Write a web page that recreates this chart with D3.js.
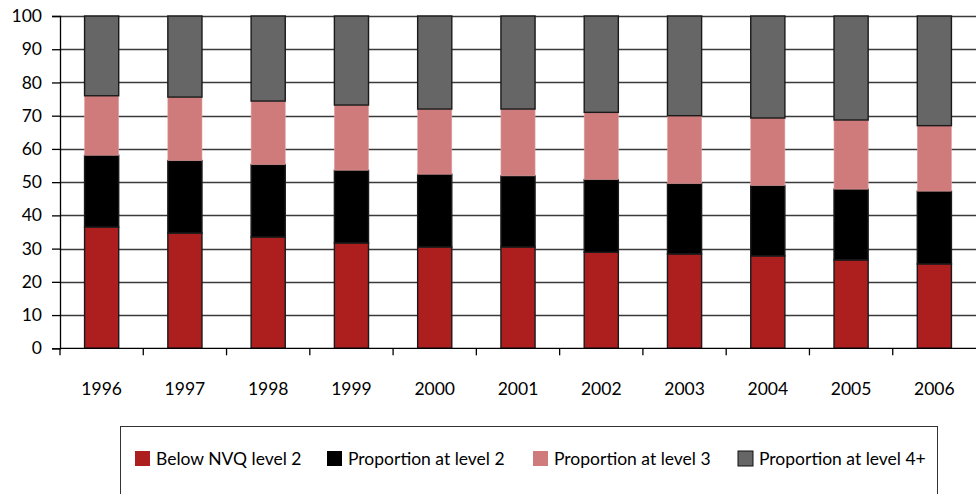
<!DOCTYPE html>
<html>
<head>
<meta charset="utf-8">
<script src="https://cdn.jsdelivr.net/npm/d3@7"></script>
<style>
  html, body { margin: 0; padding: 0; background: #fff; }
  svg { display: block; }
  text { font-family: Lato, "Open Sans", sans-serif; fill: #000; }
</style>
</head>
<body>
<svg id="chart" width="978" height="494"></svg>
<script>
// Qualification levels of the working-age population, 1996–2006 (%)
const years = ["1996", "1997", "1998", "1999", "2000", "2001", "2002", "2003", "2004", "2005", "2006"];
const belowLevel2 = [36.5, 34.7, 33.5, 31.7, 30.5, 30.5, 28.9, 28.4, 27.8, 26.6, 25.4];
const atLevel2    = [21.6, 21.8, 21.8, 21.9, 21.9, 21.4, 21.9, 21.2, 21.2, 21.3, 21.9];
const atLevel3    = [17.9, 19.1, 19.1, 19.6, 19.6, 20.1, 20.2, 20.4, 20.3, 20.8, 19.7];
const atLevel4    = [24.0, 24.4, 25.6, 26.8, 28.0, 28.0, 29.0, 30.0, 30.7, 31.3, 33.0];
const seriesNames = ["Below NVQ level 2", "Proportion at level 2", "Proportion at level 3", "Proportion at level 4+"];
const seriesColors = ["#ad1f1f", "#000000", "#cf7b7b", "#666666"];
const yTicks = [0, 10, 20, 30, 40, 50, 60, 70, 80, 90, 100];

const svg = d3.select("#chart");
const margin = { left: 60, right: 2, top: 16, bottom: 146 };
const width = 978, height = 494;
const fontSize = 17.5;

const rows = years.map((y, i) => ({
  year: y,
  s0: belowLevel2[i], s1: atLevel2[i], s2: atLevel3[i], s3: atLevel4[i]
}));
const keys = ["s0", "s1", "s2", "s3"];
const stacked = d3.stack().keys(keys)(rows);

const x = d3.scaleBand()
  .domain(years)
  .range([margin.left, width - margin.right])
  .paddingInner(0.59)
  .paddingOuter(0.295);

const y = d3.scaleLinear()
  .domain([0, 100])
  .range([height - margin.bottom + 0.3, margin.top]);

// horizontal gridlines
svg.append("g")
  .selectAll("line")
  .data(yTicks.filter(t => t > 0))
  .join("line")
  .attr("x1", margin.left).attr("x2", width - margin.right)
  .attr("y1", d => Math.round(y(d)) + 0.5).attr("y2", d => Math.round(y(d)) + 0.5)
  .attr("stroke", "#3a3a3a").attr("stroke-width", 1.3);

// stacked bars
svg.append("g")
  .selectAll("g")
  .data(stacked)
  .join("g")
  .attr("fill", (d, i) => seriesColors[i])
  .attr("stroke", (d, i) => i === 2 ? "#e0a0a0" : "#1a1a1a")
  .attr("stroke-width", (d, i) => i === 2 ? 0.6 : 1.4)
  .selectAll("rect")
  .data(d => d)
  .join("rect")
  .attr("x", d => x(d.data.year))
  .attr("width", x.bandwidth())
  .attr("y", d => y(d[1]))
  .attr("height", d => y(d[0]) - y(d[1]));

// y axis
const yAxis = d3.axisLeft(y).tickValues(yTicks).tickSize(8).tickPadding(10);
const gy = svg.append("g").attr("transform", `translate(${margin.left},0)`).call(yAxis);
gy.select(".domain").attr("stroke", "#000").attr("stroke-width", 1.3);
gy.selectAll(".tick line").attr("stroke", "#000").attr("stroke-width", 1.3);
gy.selectAll(".tick text").attr("font-size", fontSize).attr("font-family", "Lato, sans-serif").attr("fill", "#000");

// x axis with tick marks on the category boundaries
const y0 = y(0);
const gx = svg.append("g");
gx.append("line")
  .attr("x1", margin.left).attr("x2", width - margin.right)
  .attr("y1", y0).attr("y2", y0)
  .attr("stroke", "#000").attr("stroke-width", 1.3);
const step = x.step();
const boundaries = years.map(yr => x(yr) - x.paddingOuter() * step);
gx.selectAll("line.tick")
  .data(boundaries)
  .join("line")
  .attr("class", "tick")
  .attr("x1", d => d).attr("x2", d => d)
  .attr("y1", y0).attr("y2", y0 + 7)
  .attr("stroke", "#000").attr("stroke-width", 1.3);
gx.selectAll("text")
  .data(years)
  .join("text")
  .attr("x", d => x(d) + x.bandwidth() / 2)
  .attr("y", 395)
  .attr("text-anchor", "middle")
  .attr("font-size", fontSize)
  .text(d => d);

// legend
const legend = svg.append("g");
legend.append("rect")
  .attr("x", 120.5).attr("y", 426.5)
  .attr("width", 817).attr("height", 80)
  .attr("fill", "#fff").attr("stroke", "#333").attr("stroke-width", 1);
const legendX = [135, 327, 533, 738];
const items = legend.selectAll("g.item")
  .data(seriesNames)
  .join("g")
  .attr("class", "item")
  .attr("transform", (d, i) => `translate(${legendX[i]},451)`);
items.append("rect")
  .attr("width", 15).attr("height", 15)
  .attr("fill", (d, i) => seriesColors[i])
  .attr("stroke", (d, i) => i === 3 ? "#111" : "none")
  .attr("stroke-width", 1);
items.append("text")
  .attr("x", 21).attr("y", 14)
  .attr("font-size", fontSize)
  .text(d => d);
</script>
</body>
</html>
